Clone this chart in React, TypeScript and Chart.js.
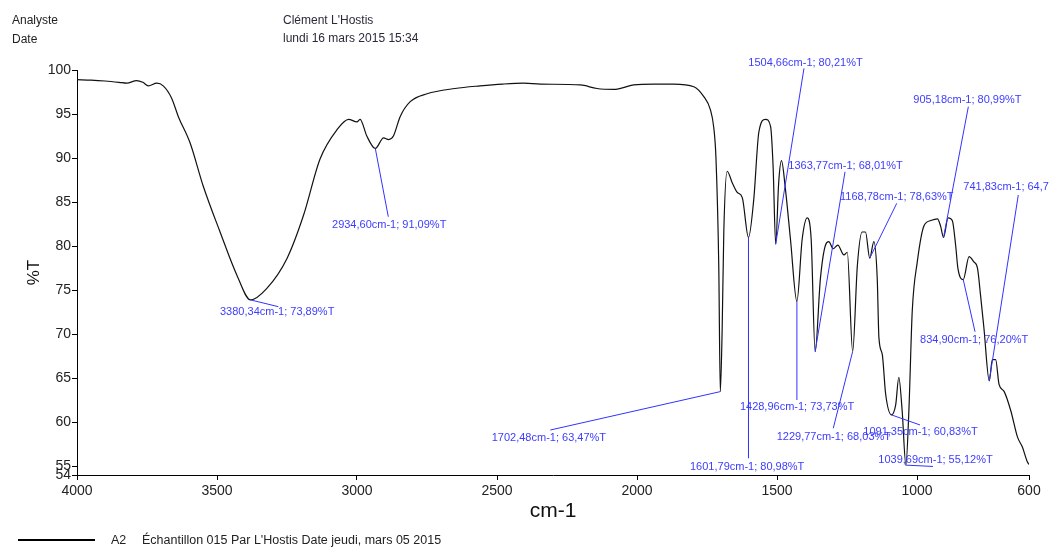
import React, { useEffect, useRef } from "react";
import { Chart, registerables } from "chart.js";

Chart.register(...registerables);

// Spectrum (wavenumber in cm-1, transmittance in %T)
const wavenumbers = [
  4000, 3950, 3900, 3850, 3822, 3787, 3765, 3745, 3715, 3692, 3662, 3638, 3596, 3549, 3489, 3429,
  3380.34, 3322, 3250, 3191, 3132, 3072, 3030, 3000, 2989, 2965, 2934.6, 2905, 2887, 2870, 2846,
  2810, 2750, 2650, 2560, 2480, 2405, 2345, 2202, 2143, 2083, 2012, 1940, 1869, 1797, 1762, 1738,
  1726, 1718, 1708, 1702.48, 1696, 1690, 1678, 1660, 1642, 1624, 1601.79, 1583, 1565, 1541, 1523,
  1514, 1504.66, 1494, 1484, 1470, 1452, 1428.96, 1410, 1392, 1378, 1363.77, 1345, 1327, 1315,
  1299, 1283, 1261, 1249, 1229.77, 1213, 1196, 1184, 1168.78, 1154, 1142, 1136, 1124, 1112,
  1091.35, 1076, 1065, 1053, 1039.69, 1029, 1017, 999, 975, 951, 927, 916, 905.18, 889, 874, 862,
  854, 834.9, 814, 797, 784, 773, 761, 741.83, 731, 719, 707, 689, 665, 641, 624, 606, 600,
];
const transmittance = [
  98.9, 98.85, 98.75, 98.6, 98.5, 98.8, 98.6, 98.2, 98.5, 98.2, 96.8, 94.7, 91.7, 86.8, 81.6, 76.7,
  73.89, 75.2, 78.6, 83.5, 89.9, 93.2, 94.4, 94.1, 94.4, 92.5, 91.09, 92.3, 92.1, 92.5, 94.7,
  96.4, 97.3, 97.9, 98.2, 98.4, 98.5, 98.4, 98.3, 97.9, 97.8, 98.3, 98.4, 98.4, 98.1, 97.0, 95.5,
  93.5, 90.0, 77.8, 63.47, 70.3, 81.6, 88.5, 87.2, 86.1, 85.5, 80.98, 85.3, 92.9, 94.4, 93.6,
  89.1, 80.21, 87.2, 89.7, 86.5, 80.8, 73.73, 80.8, 83.2, 80.8, 68.01, 76.3, 80.1, 80.5,
  79.7, 80.1, 79.0, 79.3, 68.03, 77.8, 81.6, 81.6, 78.63, 80.5, 76.3, 69.6, 67.7, 63.2,
  60.83, 62.0, 65.1, 61.3, 55.12, 61.3, 72.6, 78.2, 82.3, 82.9, 83.1, 82.3, 80.99, 83.2, 82.9, 80.1,
  77.5, 76.2, 78.8, 78.2, 77.5, 74.4, 70.7, 64.7, 67.1, 67.1, 64.3, 63.5, 61.3, 58.3, 57.2, 55.5, 55.2,
];

const xTickValues = [4000, 3500, 3000, 2500, 2000, 1500, 1000, 600];
const yTickValues = [54, 55, 60, 65, 70, 75, 80, 85, 90, 95, 100];

// Peak annotations
const peakLabels = [
  "3380,34cm-1; 73,89%T",
  "2934,60cm-1; 91,09%T",
  "1702,48cm-1; 63,47%T",
  "1601,79cm-1; 80,98%T",
  "1504,66cm-1; 80,21%T",
  "1363,77cm-1; 68,01%T",
  "1168,78cm-1; 78,63%T",
  "905,18cm-1; 80,99%T",
  "741,83cm-1; 64,7",
  "834,90cm-1; 76,20%T",
  "1428,96cm-1; 73,73%T",
  "1229,77cm-1; 68,03%T",
  "1091,35cm-1; 60,83%T",
  "1039,69cm-1; 55,12%T",
];
const peakWavenumbers = [3380.34, 2934.6, 1702.48, 1601.79, 1504.66, 1363.77, 1168.78, 905.18, 741.83, 834.9, 1428.96, 1229.77, 1091.35, 1039.69];
const peakTransmittance = [73.89, 91.09, 63.47, 80.98, 80.21, 68.01, 78.63, 80.99, 64.7, 76.2, 73.73, 68.03, 60.83, 55.12];

// Label layout (pixel offsets from the peak): leader line end, text left/middle
const labelLayout = [
  { lx: 27.8, ly: 6.8, tx: -30.5, ty: 12.1 },
  { lx: 13, ly: 68.3, tx: -43.3, ty: 76.6 },
  { lx: -170, ly: 38.4, tx: -228.6, ty: 46.7 },
  { lx: 0, ly: 220.8, tx: -58.5, ty: 229.2 },
  { lx: 28.3, ly: -175.9, tx: -27.4, ty: -181.5 },
  { lx: 29.9, ly: -179.9, tx: -26.8, ty: -185.6 },
  { lx: 27, ly: -54.8, tx: -29.7, ty: -61.4 },
  { lx: 24.8, ly: -130.7, tx: -30.2, ty: -137.4 },
  { lx: 29, ly: -185.8, tx: -26, ty: -194.1 },
  { lx: 11.8, ly: 52.2, tx: -43.2, ty: 60.5 },
  { lx: 0, ly: 98.7, tx: -57, ty: 105.4 },
  { lx: -19.4, ly: 76.8, tx: -76, ty: 85.2 },
  { lx: 28.6, ly: 10.1, tx: -28.1, ty: 16.8 },
  { lx: 27.1, ly: 1.3, tx: -27.6, ty: -5 },
];

const FONT = '"Liberation Sans", Arial, sans-serif';

const peakPlugin = {
  id: "peakLabels",
  afterDatasetsDraw(chart: any) {
    const { ctx, scales } = chart;
    const xs = scales.x;
    const ys = scales.y;
    ctx.save();
    ctx.font = "11px " + FONT;
    ctx.textBaseline = "middle";
    ctx.textAlign = "left";
    peakWavenumbers.forEach((wn, i) => {
      const px = xs.getPixelForValue(wn);
      const py = ys.getPixelForValue(peakTransmittance[i]);
      const L = labelLayout[i];
      ctx.strokeStyle = "rgb(50,50,255)";
      ctx.lineWidth = 1;
      ctx.beginPath();
      ctx.moveTo(px, py);
      ctx.lineTo(px + L.lx, py + L.ly);
      ctx.stroke();
      ctx.fillStyle = "rgb(60,60,255)";
      ctx.fillText(peakLabels[i], px + L.tx, py + L.ty);
    });
    ctx.restore();
  },
};

export default function App() {
  const canvasRef = useRef<HTMLCanvasElement | null>(null);

  useEffect(() => {
    if (!canvasRef.current) return;
    const data = wavenumbers.map((x, i) => ({ x, y: transmittance[i] }));
    const chart = new Chart(canvasRef.current, {
      type: "line",
      data: {
        datasets: [
          {
            label: "A2",
            data,
            borderColor: "#111",
            borderWidth: 1.2,
            pointRadius: 0,
            fill: false,
            cubicInterpolationMode: "monotone",
          },
        ],
      },
      options: {
        animation: false,
        responsive: false,
        devicePixelRatio: 1,
        layout: { padding: { top: 70, right: 26, bottom: 0, left: 0 } },
        plugins: { legend: { display: false }, tooltip: { enabled: false } },
        scales: {
          x: {
            type: "linear",
            reverse: true,
            min: 600,
            max: 4000,
            afterFit: (s: any) => {
              s.height = 75;
            },
            afterBuildTicks: (s: any) => {
              s.ticks = xTickValues.map((v) => ({ value: v }));
            },
            ticks: {
              autoSkip: false,
              maxRotation: 0,
              padding: 3,
              color: "#222",
              font: { family: FONT, size: 14 },
              callback: (v: any) => String(v),
            },
            grid: { display: true, drawOnChartArea: false, drawTicks: true, tickLength: 5, color: "#000" },
            border: { display: true, color: "#000", width: 1 },
            title: {
              display: true,
              text: "cm-1",
              color: "#111",
              font: { family: FONT, size: 21 },
              padding: { top: 0, bottom: 26 },
            },
          },
          y: {
            type: "linear",
            min: 54,
            max: 100,
            afterFit: (s: any) => {
              s.width = 77;
            },
            afterBuildTicks: (s: any) => {
              s.ticks = yTickValues.map((v) => ({ value: v }));
            },
            ticks: {
              autoSkip: false,
              padding: 1,
              color: "#222",
              font: { family: FONT, size: 14 },
              callback: (v: any) => String(v),
            },
            grid: { display: true, drawOnChartArea: false, drawTicks: true, tickLength: 5, color: "#000" },
            border: { display: true, color: "#000", width: 1 },
            title: {
              display: true,
              text: "%T",
              color: "#111",
              font: { family: FONT, size: 17 },
              padding: { top: 24, bottom: 0 },
            },
          },
        },
      },
      plugins: [peakPlugin],
    } as any);
    return () => chart.destroy();
  }, []);

  const textStyle: React.CSSProperties = {
    position: "absolute",
    fontFamily: FONT,
    fontSize: "12px",
    lineHeight: "14px",
    color: "#222",
    whiteSpace: "nowrap",
  };

  return (
    <div style={{ position: "absolute", left: 0, top: 0, width: 1055, height: 550, background: "#fff" }}>
      <canvas ref={canvasRef} width={1055} height={550} style={{ position: "absolute", left: 0, top: 0 }} />
      <div style={{ ...textStyle, left: 12, top: 13 }}>Analyste</div>
      <div style={{ ...textStyle, left: 12, top: 32 }}>Date</div>
      <div style={{ ...textStyle, left: 283, top: 13, color: "#2a2a3a" }}>Clément L'Hostis</div>
      <div style={{ ...textStyle, left: 283, top: 31, color: "#2a2a3a" }}>lundi 16 mars 2015 15:34</div>
      <div style={{ position: "absolute", left: 18, top: 539, width: 77, height: 2, background: "#000" }} />
      <div style={{ ...textStyle, left: 111, top: 533, fontSize: "12.5px" }}>A2</div>
      <div style={{ ...textStyle, left: 142, top: 533, fontSize: "12.5px" }}>
        Échantillon 015 Par L'Hostis Date jeudi, mars 05 2015
      </div>
    </div>
  );
}
